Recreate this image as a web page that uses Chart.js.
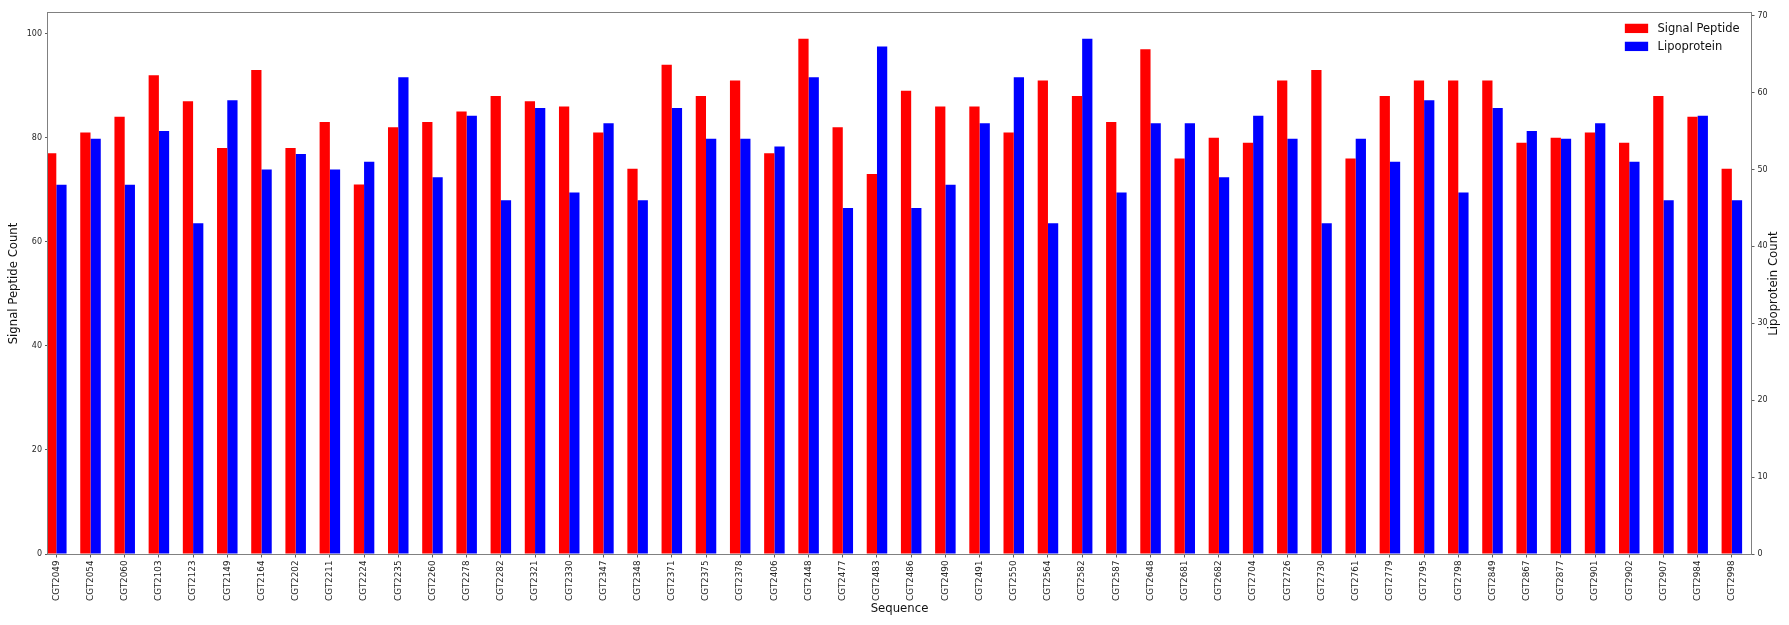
<!DOCTYPE html>
<html>
<head>
<meta charset="utf-8">
<title>Signal Peptide vs Lipoprotein</title>
<script src="https://cdn.jsdelivr.net/npm/chart.js@4.4.0/dist/chart.umd.min.js"></script>
<style>
  html, body { margin: 0; padding: 0; background: #fff; }
  #wrap { width: 1789px; height: 625px; }
</style>
</head>
<body>
<div id="wrap"><canvas id="cSeq" width="1789" height="625"></canvas></div>
<script>
// Data
const sequences = [
  'CGT2049', 'CGT2054', 'CGT2060', 'CGT2103', 'CGT2123', 'CGT2149', 'CGT2164', 'CGT2202', 'CGT2211', 'CGT2224',
  'CGT2235', 'CGT2260', 'CGT2278', 'CGT2282', 'CGT2321', 'CGT2330', 'CGT2347', 'CGT2348', 'CGT2371', 'CGT2375',
  'CGT2378', 'CGT2406', 'CGT2448', 'CGT2477', 'CGT2483', 'CGT2486', 'CGT2490', 'CGT2491', 'CGT2550', 'CGT2564',
  'CGT2582', 'CGT2587', 'CGT2648', 'CGT2681', 'CGT2682', 'CGT2704', 'CGT2726', 'CGT2730', 'CGT2761', 'CGT2779',
  'CGT2795', 'CGT2798', 'CGT2849', 'CGT2867', 'CGT2877', 'CGT2901', 'CGT2902', 'CGT2907', 'CGT2984', 'CGT2998'
];
const signalPeptide = [
  77, 81, 84, 92, 87, 78, 93, 78, 83, 71,
  82, 83, 85, 88, 87, 86, 81, 74, 94, 88,
  91, 77, 99, 82, 73, 89, 86, 86, 81, 91,
  88, 83, 97, 76, 80, 79, 91, 93, 76, 88,
  91, 91, 91, 79, 80, 81, 79, 88, 84, 74
];
const lipoprotein = [
  48, 54, 48, 55, 43, 59, 50, 52, 50, 51,
  62, 49, 57, 46, 58, 47, 56, 46, 58, 54,
  54, 53, 62, 45, 66, 45, 48, 56, 62, 43,
  67, 47, 56, 56, 49, 57, 54, 43, 54, 51,
  59, 47, 58, 55, 54, 56, 51, 46, 57, 46
];
const seriesNames = ['Signal Peptide', 'Lipoprotein'];
const seriesColors = ['#ff0000', '#0000ff'];
const axisTitles = { x: 'Sequence', left: 'Signal Peptide Count', right: 'Lipoprotein Count' };

const FONT = "'DejaVu Sans', sans-serif";
Chart.defaults.font.family = FONT;

// Plugin: bingkai (spines), legend di dalam plot, dan judul sumbu
const frameAndLabels = {
  id: 'frameAndLabels',
  afterDraw(chart) {
    const { ctx, chartArea: a } = chart;
    ctx.save();

    // bingkai abu-abu seperti matplotlib
    ctx.strokeStyle = '#808080';
    ctx.lineWidth = 1;
    ctx.strokeRect(a.left - 0.5, a.top - 0.5, a.right - a.left + 1, a.bottom - a.top + 1);

    // legend kanan atas
    ctx.font = '11.5px ' + FONT;
    ctx.textBaseline = 'middle';
    ctx.textAlign = 'left';
    const maxW = Math.max(...seriesNames.map(n => ctx.measureText(n).width));
    const textX = a.right - 11.5 - maxW;
    const boxW = 23.3, boxH = 9.3;
    seriesNames.forEach((name, i) => {
      const cy = a.top + 15.4 + i * 18;
      ctx.fillStyle = seriesColors[i];
      ctx.fillRect(textX - 9.4 - boxW, cy - boxH / 2, boxW, boxH);
      ctx.fillStyle = '#111';
      ctx.fillText(name, textX, cy + 0.5);
    });

    // judul sumbu
    ctx.font = '11.7px ' + FONT;
    ctx.fillStyle = '#111';
    ctx.textAlign = 'center';
    const cy = (a.top + a.bottom) / 2;
    ctx.fillText(axisTitles.x, (a.left + a.right) / 2, 609);

    ctx.save();
    ctx.translate(14, cy);
    ctx.rotate(-Math.PI / 2);
    ctx.fillText(axisTitles.left, 0, 0);
    ctx.restore();

    ctx.save();
    ctx.translate(1774, cy);
    ctx.rotate(-Math.PI / 2);
    ctx.fillText(axisTitles.right, 0, 0);
    ctx.restore();

    ctx.restore();
  }
};

const tickFont = { family: FONT, size: 8 };
const xTickFont = { family: FONT, size: 8.8 };
const tickColor = '#262626';

new Chart(document.getElementById('cSeq').getContext('2d'), {
  type: 'bar',
  data: {
    datasets: [
      {
        label: seriesNames[0],
        data: signalPeptide.map((v, i) => ({ x: i, y: v })),
        backgroundColor: seriesColors[0],
        borderWidth: 0,
        yAxisID: 'y',
        clip: 0
      },
      {
        label: seriesNames[1],
        data: lipoprotein.map((v, i) => ({ x: i, y: v })),
        backgroundColor: seriesColors[1],
        borderWidth: 0,
        yAxisID: 'y1',
        clip: 0
      }
    ]
  },
  options: {
    responsive: false,
    animation: false,
    devicePixelRatio: 1,
    categoryPercentage: 0.6,
    barPercentage: 1.0,
    layout: { padding: { top: 13, left: 0, right: 0, bottom: 0 } },
    plugins: {
      legend: { display: false },
      tooltip: { enabled: false }
    },
    scales: {
      x: {
        type: 'linear',
        offset: false,
        min: -0.243,
        max: 49.56,
        afterBuildTicks: (scale) => { scale.ticks = sequences.map((s, i) => ({ value: i })); },
        afterFit: (scale) => { scale.height = 71; },
        grid: { offset: false, drawOnChartArea: false, tickLength: 3.5, tickColor: '#333', tickWidth: 0.8 },
        border: { display: false },
        ticks: {
          autoSkip: false,
          maxRotation: 90,
          minRotation: 90,
          padding: 3,
          font: xTickFont,
          color: tickColor,
          callback: (value) => sequences[value]
        }
      },
      y: {
        position: 'left',
        min: 0,
        max: 103.95,
        afterFit: (scale) => { scale.width = 48; },
        grid: { drawOnChartArea: false, tickLength: 3, tickColor: '#333', tickWidth: 0.8 },
        border: { display: false },
        ticks: { stepSize: 20, includeBounds: false, padding: 3, font: tickFont, color: tickColor }
      },
      y1: {
        position: 'right',
        min: 0,
        max: 70.35,
        afterFit: (scale) => { scale.width = 38; },
        grid: { drawOnChartArea: false, tickLength: 3.5, tickColor: '#333', tickWidth: 0.8 },
        border: { display: false },
        ticks: { stepSize: 10, includeBounds: false, padding: 3, font: tickFont, color: tickColor }
      }
    }
  },
  plugins: [frameAndLabels]
});
</script>
</body>
</html>
